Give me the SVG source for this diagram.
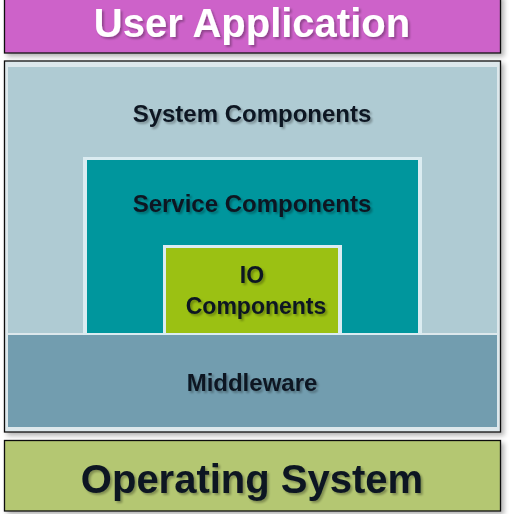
<svg xmlns="http://www.w3.org/2000/svg" width="514" height="514" viewBox="0 0 514 514">
<defs>
<filter id="sh" x="-5%" y="-5%" width="115%" height="125%">
<feGaussianBlur in="SourceAlpha" stdDeviation="2.5"/>
<feOffset dx="3" dy="3" result="b"/>
<feComponentTransfer><feFuncA type="linear" slope="0.3"/></feComponentTransfer>
<feMerge><feMergeNode/><feMergeNode in="SourceGraphic"/></feMerge>
</filter>
<filter id="ts" x="-5%" y="-20%" width="115%" height="150%">
<feGaussianBlur in="SourceAlpha" stdDeviation="1.2"/>
<feOffset dx="2" dy="2"/>
<feComponentTransfer><feFuncA type="linear" slope="0.3"/></feComponentTransfer>
<feMerge><feMergeNode/><feMergeNode in="SourceGraphic"/></feMerge>
</filter>
</defs>
<style>
.t{font-family:"Liberation Sans",Arial,sans-serif;font-weight:bold;text-anchor:middle;fill:#0b1622}
.big{font-size:40px}
.mid{font-size:24px}
.box{stroke:#111;stroke-width:1.3}
</style>
<rect width="514" height="514" fill="#ffffff"/>
<g id="user-application">
<rect class="box" x="4.5" y="-5" width="496" height="58" fill="#cd62c9" filter="url(#sh)"/>
<text class="t big" x="252" y="37" style="fill:#ffffff" filter="url(#ts)">User Application</text>
</g>
<g id="container">
<rect class="box" x="4.5" y="61" width="496" height="371" fill="#dde8ec" filter="url(#sh)"/>
</g>
<g id="system-components">
<rect x="8" y="67" width="489" height="266" fill="#afcbd3"/>
<text class="t mid" x="252" y="122" filter="url(#ts)">System  Components</text>
</g>
<g id="service-components">
<rect x="83" y="157" width="339" height="178" fill="#dbecf1"/>
<rect x="87" y="160" width="331" height="173" fill="#00969d"/>
<text class="t mid" x="252" y="212" filter="url(#ts)">Service Components</text>
</g>
<g id="io-components">
<rect x="163" y="245" width="179" height="90" fill="#dbecf1"/>
<rect x="166" y="248" width="172" height="85" fill="#9bc113"/>
<text class="t" font-size="23" x="252" y="283" filter="url(#ts)">IO</text>
<text class="t" font-size="23" x="256" y="314" filter="url(#ts)">Components</text>
</g>
<g id="middleware">
<rect x="8" y="335" width="489" height="92" fill="#729daf"/>
<text class="t mid" x="252" y="391" filter="url(#ts)">Middleware</text>
</g>
<g id="operating-system">
<rect class="box" x="4.5" y="440.5" width="496" height="70.5" fill="#b4c772" filter="url(#sh)"/>
<text class="t big" x="252" y="493" filter="url(#ts)">Operating System</text>
</g>
<g id="connectors"/>
</svg>
